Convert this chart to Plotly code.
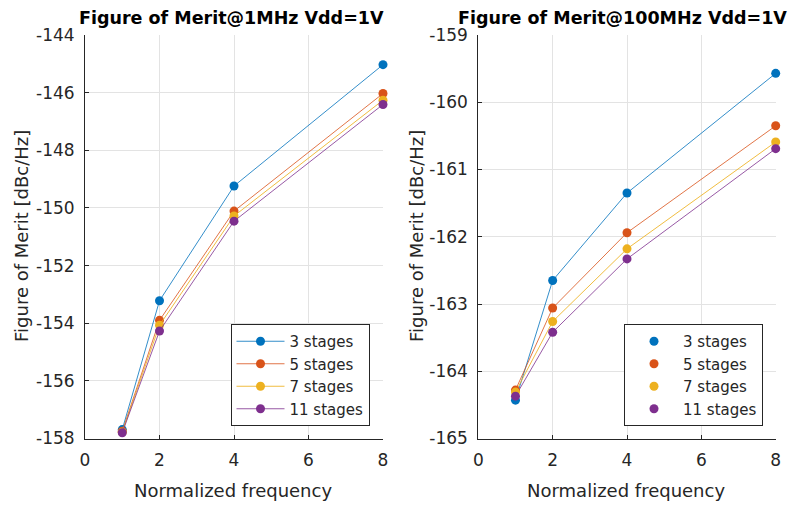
import plotly.graph_objects as go

# Normalized frequency points
freq = [1, 2, 4, 8]
stage_names = ["3 stages", "5 stages", "7 stages", "11 stages"]
colors = ["#0072BD", "#D95319", "#EDB120", "#7E2F8E"]
line_colors = ["rgba(0,114,189,0.8)", "rgba(217,83,25,0.8)",
               "rgba(237,177,32,0.85)", "rgba(126,47,142,0.8)"]

# Axis ticks (plain hyphen minus signs)
x_ticks = [0, 2, 4, 6, 8]
y_ticks_1mhz = [-158, -156, -154, -152, -150, -148, -146, -144]
y_ticks_100mhz = [-165, -164, -163, -162, -161, -160, -159]
y_labels_1mhz = ["-158", "-156", "-154", "-152", "-150", "-148", "-146", "-144"]
y_labels_100mhz = ["-165", "-164", "-163", "-162", "-161", "-160", "-159"]

# Figure of merit at 1 MHz, Vdd = 1 V  [dBc/Hz]
fom_1mhz_3 = [-157.69, -153.22, -149.24, -145.03]
fom_1mhz_5 = [-157.75, -153.90, -150.11, -146.03]
fom_1mhz_7 = [-157.78, -154.07, -150.28, -146.26]
fom_1mhz_11 = [-157.80, -154.27, -150.46, -146.41]

# Figure of merit at 100 MHz, Vdd = 1 V  [dBc/Hz]
fom_100mhz_3 = [-164.43, -162.65, -161.35, -159.57]
fom_100mhz_5 = [-164.28, -163.06, -161.94, -160.35]
fom_100mhz_7 = [-164.31, -163.26, -162.18, -160.59]
fom_100mhz_11 = [-164.37, -163.42, -162.33, -160.69]

left_series = [fom_1mhz_3, fom_1mhz_5, fom_1mhz_7, fom_1mhz_11]
right_series = [fom_100mhz_3, fom_100mhz_5, fom_100mhz_7, fom_100mhz_11]

FONT = "DejaVu Sans, Arial, sans-serif"
TXT = "#262626"
W, H = 801, 505

fig = go.Figure()

# Left panel: lines with markers, legend shows line + marker
for name, ys, c, lc in zip(stage_names, left_series, colors, line_colors):
    fig.add_trace(go.Scatter(
        x=freq, y=ys, name=name, mode="lines+markers",
        line=dict(color=lc, width=1),
        marker=dict(color=c, size=9),
        cliponaxis=False, xaxis="x", yaxis="y", legend="legend",
    ))

# Right panel: connecting lines (no legend) + marker-only legend entries
for ys, lc in zip(right_series, line_colors):
    fig.add_trace(go.Scatter(
        x=freq, y=ys, mode="lines", showlegend=False,
        line=dict(color=lc, width=1),
        cliponaxis=False, xaxis="x2", yaxis="y2", hoverinfo="skip",
    ))
for name, ys, c in zip(stage_names, right_series, colors):
    fig.add_trace(go.Scatter(
        x=freq, y=ys, name=name, mode="markers",
        marker=dict(color=c, size=9),
        cliponaxis=False, xaxis="x2", yaxis="y2", legend="legend2",
    ))


def px_x(p):
    return p / W


def px_y(p):
    return 1 - p / H


axis_common = dict(
    showgrid=True, gridcolor="#e3e3e3", gridwidth=1,
    showline=True, linecolor=TXT, linewidth=1,
    ticks="inside", ticklen=4, tickcolor=TXT,
    tickfont=dict(family=FONT, size=17, color=TXT),
    zeroline=False, mirror=False, automargin=False,
    ticklabelstandoff=6,
)

ydom = [px_y(438.5), px_y(35)]

legend_common = dict(
    xanchor="left", yanchor="top",
    bgcolor="white", bordercolor=TXT, borderwidth=1,
    font=dict(family=FONT, size=15, color=TXT),
    itemwidth=48, tracegroupgap=0,
)

fig.update_layout(
    width=W, height=H,
    margin=dict(l=0, r=0, t=0, b=0, autoexpand=False),
    paper_bgcolor="white", plot_bgcolor="white",
    font=dict(family=FONT, size=16, color=TXT),
    xaxis=dict(domain=[px_x(85), px_x(383)], range=[0, 8], tickvals=x_ticks,
               anchor="y", **axis_common),
    yaxis=dict(domain=ydom, range=[-158, -144], tickvals=y_ticks_1mhz,
               ticktext=y_labels_1mhz, anchor="x", **axis_common),
    xaxis2=dict(domain=[px_x(478.3), px_x(775.7)], range=[0, 8], tickvals=x_ticks,
                anchor="y2", **axis_common),
    yaxis2=dict(domain=ydom, range=[-165, -159], tickvals=y_ticks_100mhz,
                ticktext=y_labels_100mhz, anchor="x2", **axis_common),
    legend=dict(x=px_x(230.5), y=px_y(324), **legend_common),
    legend2=dict(x=px_x(624), y=px_y(324), **legend_common),
    showlegend=True,
)

panels = [
    ("Figure of Merit@1MHz Vdd=1V", 231, 232.5, 21.5),
    ("Figure of Merit@100MHz Vdd=1V", 622, 626, 416.5),
]
for text, title_x, xlab_x, ylab_x in panels:
    fig.add_annotation(text=f"<b>{text}</b>", x=px_x(title_x), y=px_y(18),
                       xref="paper", yref="paper", xanchor="center", yanchor="middle",
                       showarrow=False, font=dict(family=FONT, size=17.5, color="black"))
    fig.add_annotation(text="Normalized frequency", x=px_x(xlab_x), y=px_y(490),
                       xref="paper", yref="paper", xanchor="center", yanchor="middle",
                       showarrow=False, font=dict(family=FONT, size=18, color=TXT))
    fig.add_annotation(text="Figure of Merit [dBc/Hz]", x=px_x(ylab_x), y=px_y(236.5),
                       xref="paper", yref="paper", xanchor="center", yanchor="middle",
                       showarrow=False, textangle=-90,
                       font=dict(family=FONT, size=18, color=TXT))

fig.write_html("out.html")
